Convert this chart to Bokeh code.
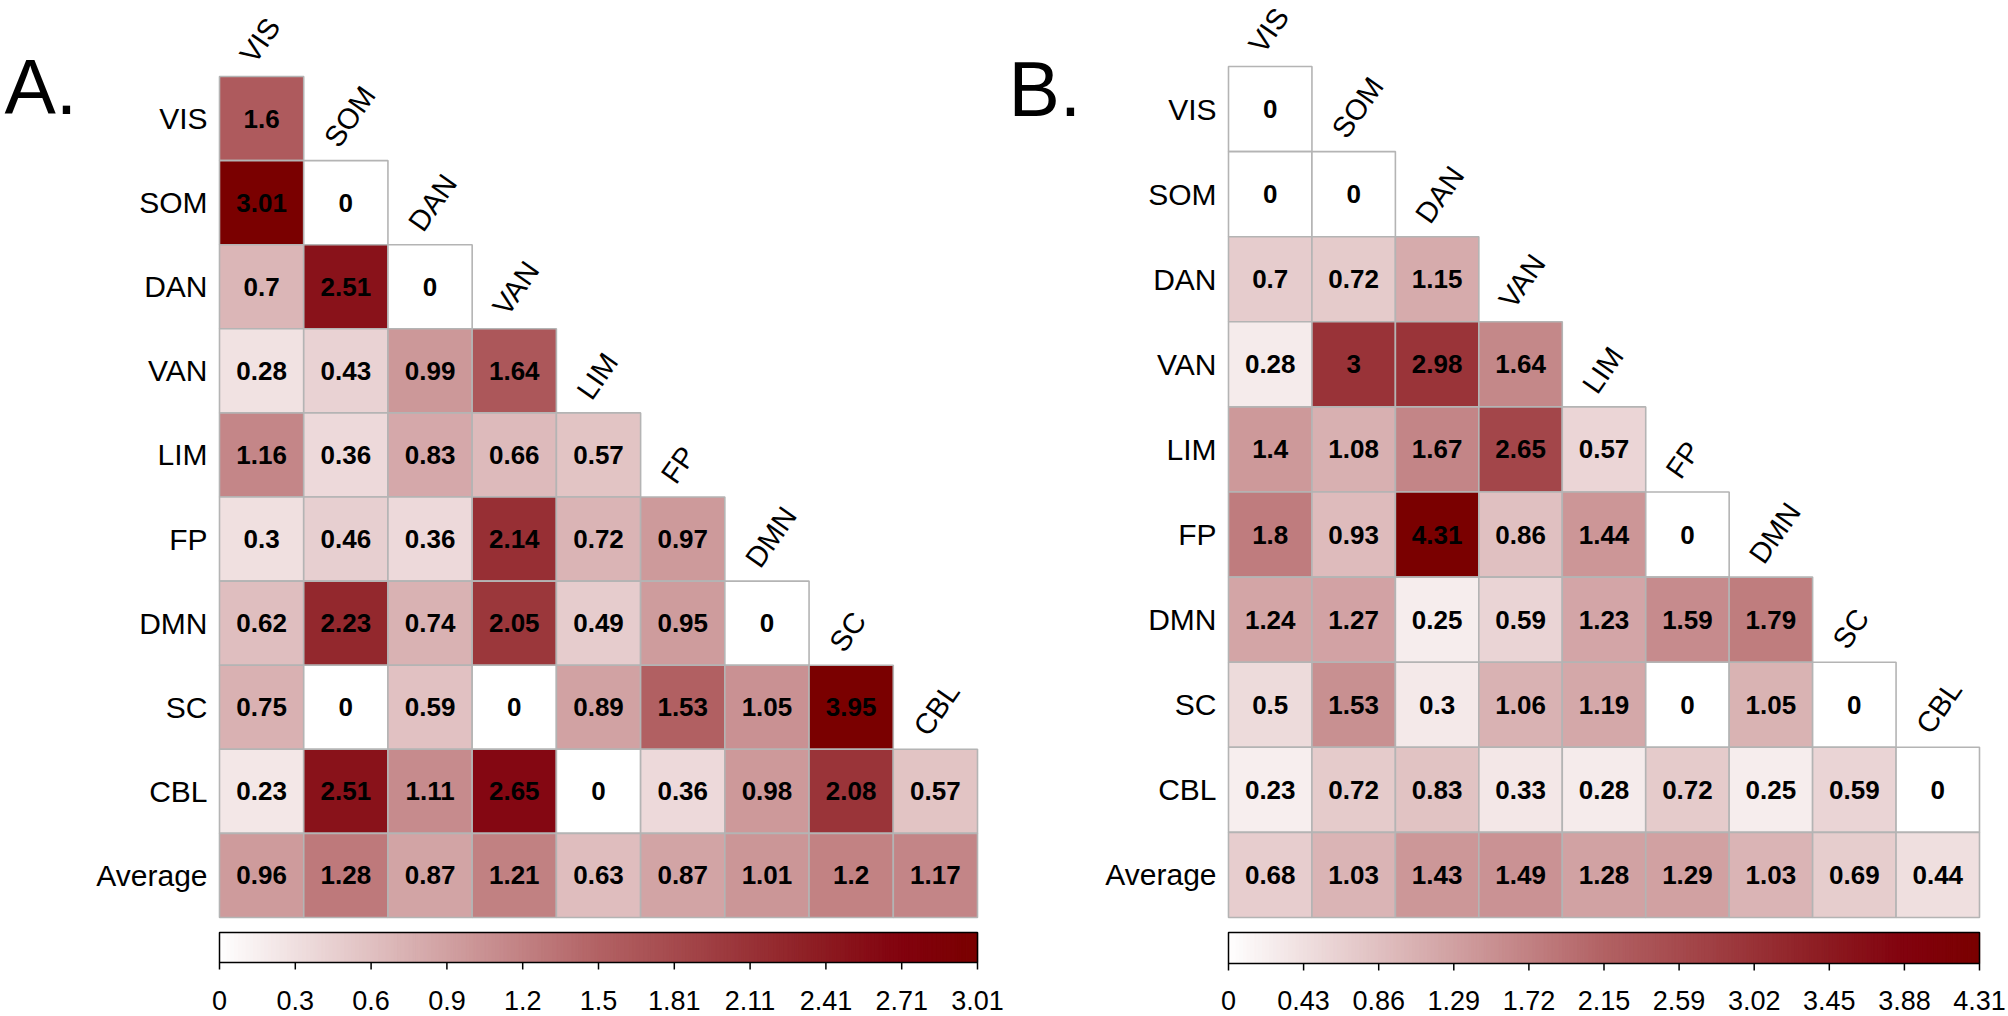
from bokeh.plotting import figure
from bokeh.models import Range1d, ColumnDataSource
from bokeh.core.properties import value
from bokeh.embed import file_html
from bokeh.resources import INLINE
import numpy as np

# ---------------- data ----------------
networks = ["VIS", "SOM", "DAN", "VAN", "LIM", "FP", "DMN", "SC", "CBL"]
row_labels = networks + ["Average"]

values_a = [
    [1.6],
    [3.01, 0],
    [0.7, 2.51, 0],
    [0.28, 0.43, 0.99, 1.64],
    [1.16, 0.36, 0.83, 0.66, 0.57],
    [0.3, 0.46, 0.36, 2.14, 0.72, 0.97],
    [0.62, 2.23, 0.74, 2.05, 0.49, 0.95, 0],
    [0.75, 0, 0.59, 0, 0.89, 1.53, 1.05, 3.95],
    [0.23, 2.51, 1.11, 2.65, 0, 0.36, 0.98, 2.08, 0.57],
    [0.96, 1.28, 0.87, 1.21, 0.63, 0.87, 1.01, 1.2, 1.17],
]
values_b = [
    [0],
    [0, 0],
    [0.7, 0.72, 1.15],
    [0.28, 3, 2.98, 1.64],
    [1.4, 1.08, 1.67, 2.65, 0.57],
    [1.8, 0.93, 4.31, 0.86, 1.44, 0],
    [1.24, 1.27, 0.25, 0.59, 1.23, 1.59, 1.79],
    [0.5, 1.53, 0.3, 1.06, 1.19, 0, 1.05, 0],
    [0.23, 0.72, 0.83, 0.33, 0.28, 0.72, 0.25, 0.59, 0],
    [0.68, 1.03, 1.43, 1.49, 1.28, 1.29, 1.03, 0.69, 0.44],
]
max_a = 3.01
max_b = 4.31
ticks_a = ["0", "0.3", "0.6", "0.9", "1.2", "1.5", "1.81", "2.11", "2.41", "2.71", "3.01"]
ticks_b = ["0", "0.43", "0.86", "1.29", "1.72", "2.15", "2.59", "3.02", "3.45", "3.88", "4.31"]

# ---------------- style ----------------
stops_pos = [0.0, 0.5, 0.8, 0.9, 1.0]
stops_rgb = [(255, 255, 255), (178, 98, 100), (140, 26, 32), (130, 2, 14), (122, 0, 0)]


def color_for(frac):
    frac = min(max(frac, 0.0), 1.0)
    rgb = [int(round(np.interp(frac, stops_pos, [c[k] for c in stops_rgb]))) for k in range(3)]
    return "#%02x%02x%02x" % tuple(rgb)


FONT = value("Liberation Sans")
ANG = np.deg2rad(55)

W, H = 2008, 1016
p = figure(width=W, height=H, x_range=Range1d(0, W), y_range=Range1d(H, 0),
           output_backend="svg", toolbar_location=None, min_border=0,
           outline_line_color=None, background_fill_color="white")
p.axis.visible = False
p.grid.visible = False

panels = [
    dict(letter="A.", vals=values_a, vmax=max_a, ticks=ticks_a, x0=219.0, y0=76.0,
         cw=(977 - 219) / 9.0, ch=(917 - 76) / 10.0, lx=4, ly=86, cb=(219, 977, 932, 962)),
    dict(letter="B.", vals=values_b, vmax=max_b, ticks=ticks_b, x0=1228.0, y0=66.0,
         cw=(1979 - 1228) / 9.0, ch=(917 - 66) / 10.0, lx=1008, ly=88, cb=(1228, 1979, 932, 963)),
]

for pn in panels:
    x0, y0, cw, ch = pn["x0"], pn["y0"], pn["cw"], pn["ch"]
    xs, ys, cols, txt = [], [], [], []
    for r, row in enumerate(pn["vals"]):
        for c, v in enumerate(row):
            xs.append(x0 + (c + 0.5) * cw)
            ys.append(y0 + (r + 0.5) * ch)
            cols.append(color_for(v / pn["vmax"]))
            txt.append("%g" % v)
    src = ColumnDataSource(dict(x=xs, y=ys, color=cols, text=txt))
    p.rect(x="x", y="y", width=cw, height=ch, source=src, fill_color="color",
           line_color="#b4b4b4", line_width=1.6)
    p.text(x="x", y="y", text="text", source=src, text_align="center", text_baseline="middle",
           text_font=FONT, text_font_style="bold", text_font_size=value("26px"), text_color="black")

    # row labels
    p.text(x=[x0 - 12] * len(row_labels), y=[y0 + (r + 0.5) * ch for r in range(len(row_labels))],
           text=row_labels, text_align="right", text_baseline="middle",
           text_font=FONT, text_font_size=value("30px"), text_color="black")

    # column labels along the diagonal
    p.text(x=[x0 + (j + 0.5) * cw - 15 for j in range(len(networks))],
           y=[y0 + j * ch - 17 for j in range(len(networks))],
           text=networks, text_align="left", text_baseline="middle", angle=ANG,
           text_font=FONT, text_font_size=value("29px"), text_color="black")

    # panel letter
    p.text(x=[pn["lx"]], y=[pn["ly"]], text=[pn["letter"]], text_align="left",
           text_baseline="middle", text_font=FONT, text_font_size=value("77px"),
           text_color="black")

    # colorbar
    cl, cr, ct, cbm = pn["cb"]
    n = 200
    edges = np.linspace(cl, cr, n + 1)
    fr = (np.arange(n) + 0.5) / n
    grad = [color_for(f) for f in fr]
    p.quad(left=edges[:-1], right=edges[1:], top=ct, bottom=cbm,
           fill_color=grad, line_color=grad, line_width=1.2)
    p.quad(left=[cl], right=[cr], top=[ct], bottom=[cbm], fill_color=None,
           line_color="black", line_width=1.5)
    tx = np.linspace(cl, cr, len(pn["ticks"]))
    p.segment(x0=tx, y0=[cbm] * len(tx), x1=tx, y1=[cbm + 7] * len(tx),
              line_color="black", line_width=1.5)
    p.text(x=tx, y=[1000] * len(tx), text=pn["ticks"], text_align="center",
           text_baseline="middle", text_font=FONT, text_font_size=value("27px"),
           text_color="black")

open("out.html", "w").write(file_html(p, INLINE))
